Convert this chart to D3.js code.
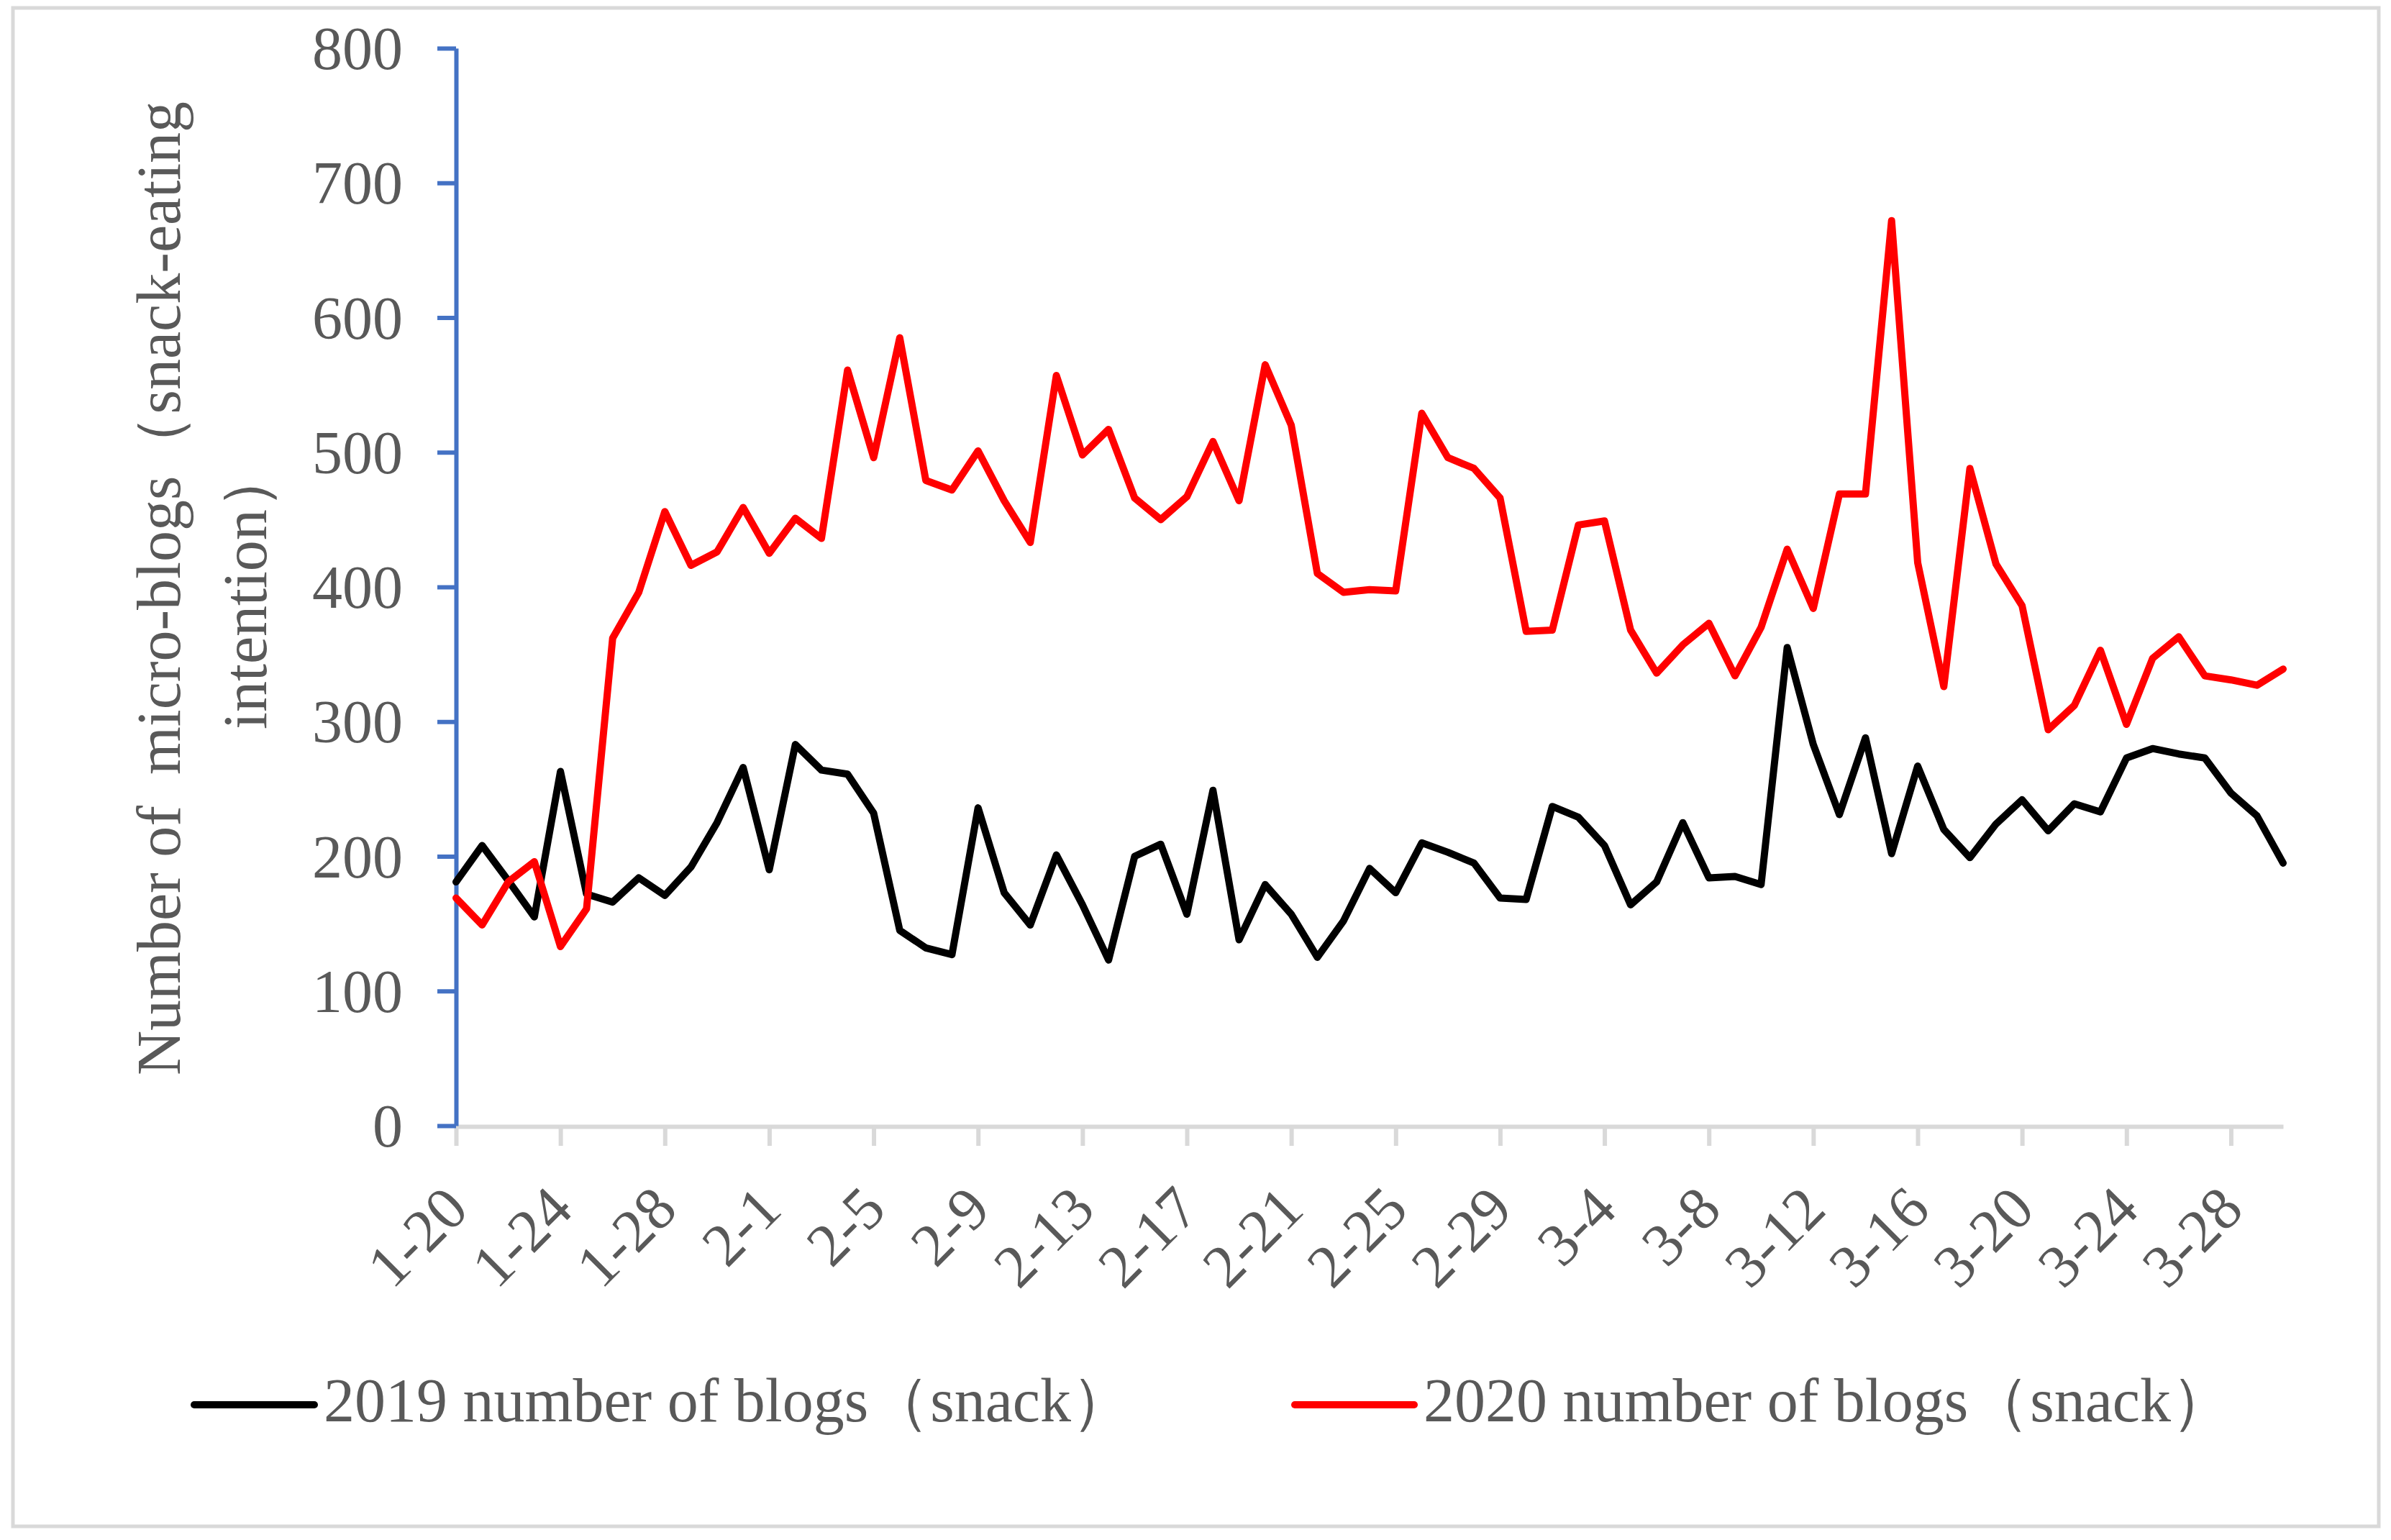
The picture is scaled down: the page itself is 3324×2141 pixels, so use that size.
<!DOCTYPE html>
<html>
<head>
<meta charset="utf-8">
<script src="https://cdn.jsdelivr.net/npm/d3@7"></script>
<style>
  html, body { margin: 0; padding: 0; background: #ffffff; }
  svg { display: block; }
</style>
</head>
<body>
<script>
// ---------- DATA ----------
const dates = [
  "1-20","1-21","1-22","1-23","1-24","1-25","1-26","1-27","1-28","1-29","1-30","1-31",
  "2-1","2-2","2-3","2-4","2-5","2-6","2-7","2-8","2-9","2-10","2-11","2-12","2-13","2-14",
  "2-15","2-16","2-17","2-18","2-19","2-20","2-21","2-22","2-23","2-24","2-25","2-26","2-27",
  "2-28","2-29",
  "3-1","3-2","3-3","3-4","3-5","3-6","3-7","3-8","3-9","3-10","3-11","3-12","3-13","3-14",
  "3-15","3-16","3-17","3-18","3-19","3-20","3-21","3-22","3-23","3-24","3-25","3-26","3-27",
  "3-28","3-29","3-30"
];

const xTickLabels = ["1-20","1-24","1-28","2-1","2-5","2-9","2-13","2-17","2-21","2-25",
  "2-29","3-4","3-8","3-12","3-16","3-20","3-24","3-28"];

const yTicks = [0, 100, 200, 300, 400, 500, 600, 700, 800];

const blogs2019 = [181,208,182,155,263,172,166,184,171,192,225,266,
  190,283,264,261,232,145,132,127,236,173,149,201,164,123,200,209,157,249,138,179,157,125,152,191,173,210,203,195,169,
  168,237,229,208,164,181,225,184,185,179,355,283,231,288,202,267,220,199,224,242,219,239,233,273,280,276,273,247,230,195];

const blogs2020 = [169,149,181,196,133,161,362,396,456,416,426,459,
  425,451,436,561,496,585,479,472,501,464,433,557,498,517,466,450,467,508,464,565,520,410,396,398,397,529,496,488,466,
  367,368,446,449,368,336,357,373,334,370,428,384,469,469,672,418,326,488,417,386,294,312,353,298,347,363,334,331,327,339];

const seriesNames = ["2019 number of blogs（snack）", "2020 number of blogs（snack）"];
const seriesColors = ["#000000", "#FF0000"];
const yTitleLines = ["Number of  micro-blogs（snack-eating", "intention）"];

// ---------- LAYOUT ----------
const W = 3324, H = 2141;
const FONT = "'Liberation Serif', 'Times New Roman', 'Noto Serif', serif";
const TEXT = "#595959";
const FS = 84;

const svg = d3.select("body").append("svg")
  .attr("width", W).attr("height", H)
  .attr("viewBox", `0 0 ${W} ${H}`);

svg.append("rect")
  .attr("x", 18).attr("y", 11).attr("width", 3289).attr("height", 2111)
  .attr("fill", "#ffffff").attr("stroke", "#D9D9D9").attr("stroke-width", 5);

const x = d3.scalePoint().domain(dates).range([634, 3174]);
const y = d3.scaleLinear().domain([0, 800]).range([1565, 67]);

// X axis
const gx = svg.append("g").attr("transform", "translate(0,1566)")
  .call(d3.axisBottom(x).tickValues(xTickLabels).tickSize(27).tickSizeOuter(0));
gx.select(".domain").attr("stroke", "#D9D9D9").attr("stroke-width", 6);
gx.selectAll(".tick line").attr("stroke", "#D9D9D9").attr("stroke-width", 6);
gx.selectAll(".tick text")
  .attr("x", 0).attr("y", 0).attr("dy", 0)
  .attr("text-anchor", "end")
  .attr("transform", "translate(20,119) rotate(-45)")
  .attr("fill", TEXT)
  .style("font-family", FONT).style("font-size", FS + "px");

// Y axis
const gy = svg.append("g").attr("transform", "translate(634,0)")
  .call(d3.axisLeft(y).tickValues(yTicks).tickSize(26).tickSizeOuter(0).tickPadding(48));
gy.select(".domain").attr("stroke", "#4472C4").attr("stroke-width", 6);
gy.selectAll(".tick line").attr("stroke", "#4472C4").attr("stroke-width", 6);
gy.selectAll(".tick text")
  .attr("dy", "0.34em")
  .attr("fill", TEXT)
  .style("font-family", FONT).style("font-size", FS + "px");

// Y title
const yTitle = svg.append("g");
yTitleLines.forEach((t, i) => {
  yTitle.append("text")
    .attr("transform", `translate(${250 + i * 120},818) rotate(-90)`)
    .attr("text-anchor", "middle")
    .attr("fill", TEXT)
    .style("white-space", "pre")
    .style("font-family", FONT).style("font-size", (FS + 2) + "px")
    .text(t);
});

// Lines
const line = d3.line()
  .x((d, i) => x(dates[i]))
  .y(d => y(d));

[blogs2019, blogs2020].forEach((s, k) => {
  svg.append("path")
    .datum(s)
    .attr("d", line)
    .attr("fill", "none")
    .attr("stroke", seriesColors[k])
    .attr("stroke-width", 10)
    .attr("stroke-linejoin", "round")
    .attr("stroke-linecap", "round");
});

// Legend
const legendPos = [{x0: 270, x1: 437, tx: 450}, {x0: 1800, x1: 1966, tx: 1979}];
seriesNames.forEach((name, k) => {
  const p = legendPos[k];
  svg.append("line")
    .attr("x1", p.x0).attr("x2", p.x1).attr("y1", 1953).attr("y2", 1953)
    .attr("stroke", seriesColors[k]).attr("stroke-width", 10)
    .attr("stroke-linecap", "round");
  svg.append("text")
    .attr("x", p.tx).attr("y", 1976)
    .attr("fill", TEXT)
    .style("font-family", FONT).style("font-size", (FS + 2) + "px")
    .text(name);
});
</script>
</body>
</html>
